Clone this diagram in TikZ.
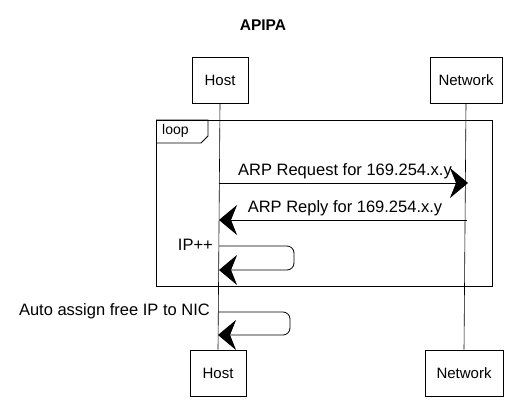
\documentclass[tikz,border=0pt]{standalone}
\usepackage{fontspec}
\setmainfont{Liberation Sans}
\usetikzlibrary{arrows.meta}
\begin{document}
\begin{tikzpicture}[x=1pt,y=-1pt,
  every node/.style={inner sep=0pt},
  actor/.style={draw, line width=0.7pt, minimum height=46pt, font=\fontsize{15}{17}\selectfont},
  lifeline/.style={line width=0.6pt},
  msg/.style={line width=0.8pt, -{Stealth[length=18pt,width=30pt,inset=6pt]}},
  lbl/.style={font=\fontsize{16.5}{19}\selectfont},
  frame/.style={draw, line width=0.8pt}]
\useasboundingbox (0,0) rectangle (532,403);
% title
\node[font=\bfseries\fontsize{15.5}{18}\selectfont] (title) at (263,25) {APIPA};
% actors
\node[actor, minimum width=56pt] (hostT) at (220,80) {Host};
\node[actor, minimum width=72pt] (netT) at (466,80) {Network};
\node[actor, minimum width=56pt] (hostB) at (218,373) {Host};
\node[actor, minimum width=78pt] (netB) at (464,373) {Network};
% lifelines
\draw[lifeline] (hostT.south) -- (hostB.north);
\draw[lifeline] (netT.south) -- (netB.north);
% loop frame
\coordinate (fTL) at (156,120);
\coordinate (fBR) at (492,286);
\draw[frame] (fTL) rectangle (fBR);
\draw[frame] (fTL) -- (208,120) -- (208,136) -- (201,143) -- (156,143);
\node[anchor=west, font=\fontsize{14}{16}\selectfont] (loopl) at (162,131) {loop};
% message 1
\coordinate (m1a) at (219,183);
\coordinate (m1b) at (468,183);
\draw[msg] (m1a) -- (m1b);
\node[lbl] (l1) at (345,171) {ARP Request for 169.254.x.y};
% message 2
\coordinate (m2a) at (467,220);
\coordinate (m2b) at (219,220);
\draw[msg] (m2a) -- (m2b);
\node[lbl] (l2) at (345,208) {ARP Reply for 169.254.x.y};
% self message IP++
\coordinate (s1a) at (219,246);
\coordinate (s1b) at (219,270);
\draw[msg, rounded corners=7pt] (s1a) -- (294,246) -- (294,270) -- (s1b);
\node[lbl, anchor=east] (l3) at (213,245) {IP++};
% self message auto assign
\coordinate (s2a) at (218,312);
\coordinate (s2b) at (218,335);
\draw[msg, rounded corners=7pt] (s2a) -- (290,312) -- (290,335) -- (s2b);
\node[lbl, anchor=east] (l4) at (210,311) {Auto assign free IP to NIC};
\end{tikzpicture}
\end{document}
